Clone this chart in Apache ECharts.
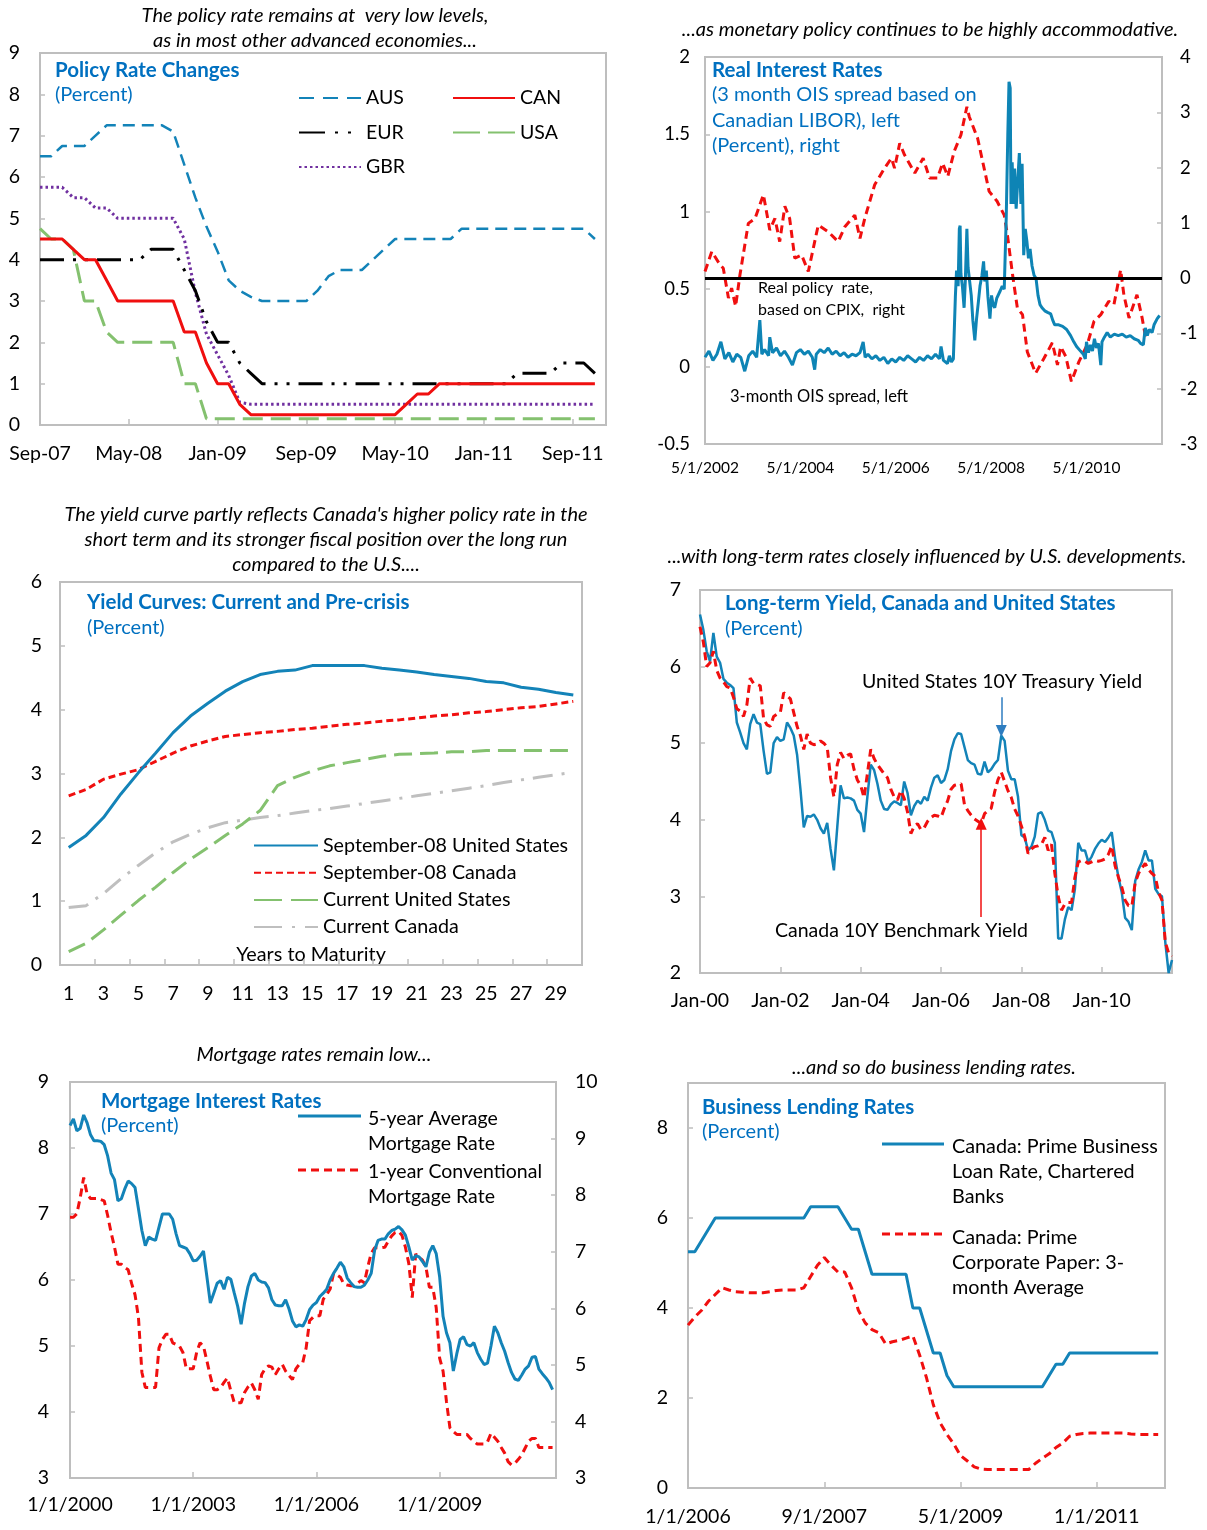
<!DOCTYPE html>
<html><head><meta charset="utf-8">
<script src="https://cdn.jsdelivr.net/npm/echarts@6/dist/echarts.min.js"></script>
<style>html,body{margin:0;padding:0;background:#fff}#c{width:1207px;height:1530px}</style>
</head><body><div id="c"></div>
<script>
// ---------- Panel 1: Policy rate changes (monthly, Sep-07 .. ) ----------
const aus = [6.5,6.5,6.75,6.75,6.75,7.0,7.25,7.25,7.25,7.25,
  7.25,7.25,7.1,6.3,5.5,4.8,4.2,3.5,3.25,3.1,
  3.0,3.0,3.0,3.0,3.0,3.25,3.6,3.75,3.75,3.75,
  4.0,4.25,4.5,4.5,4.5,4.5,4.5,4.5,4.75,4.75,
  4.75,4.75,4.75,4.75,4.75,4.75,4.75,4.75,4.75,4.75,
  4.5];
const can = [4.5,4.5,4.5,4.25,4.0,4.0,3.5,3.0,3.0,3.0,
  3.0,3.0,3.0,2.25,2.25,1.5,1.0,1.0,0.5,0.25,
  0.25,0.25,0.25,0.25,0.25,0.25,0.25,0.25,0.25,0.25,
  0.25,0.25,0.25,0.5,0.75,0.75,1.0,1.0,1.0,1.0,
  1.0,1.0,1.0,1.0,1.0,1.0,1.0,1.0,1.0,1.0,
  1.0];
const eur = [4.0,4.0,4.0,4.0,4.0,4.0,4.0,4.0,4.0,4.0,
  4.25,4.25,4.25,3.75,3.25,2.5,2.0,2.0,1.5,1.25,
  1.0,1.0,1.0,1.0,1.0,1.0,1.0,1.0,1.0,1.0,
  1.0,1.0,1.0,1.0,1.0,1.0,1.0,1.0,1.0,1.0,
  1.0,1.0,1.0,1.25,1.25,1.25,1.25,1.5,1.5,1.5,
  1.25];
const usa = [4.75,4.5,4.5,4.25,3.0,3.0,2.25,2.0,2.0,2.0,
  2.0,2.0,2.0,1.0,1.0,0.15,0.15,0.15,0.15,0.15,
  0.15,0.15,0.15,0.15,0.15,0.15,0.15,0.15,0.15,0.15,
  0.15,0.15,0.15,0.15,0.15,0.15,0.15,0.15,0.15,0.15,
  0.15,0.15,0.15,0.15,0.15,0.15,0.15,0.15,0.15,0.15,
  0.15];
const gbr = [5.75,5.75,5.75,5.5,5.5,5.25,5.25,5.0,5.0,5.0,
  5.0,5.0,5.0,4.5,3.2,2.2,1.7,1.2,0.55,0.5,
  0.5,0.5,0.5,0.5,0.5,0.5,0.5,0.5,0.5,0.5,
  0.5,0.5,0.5,0.5,0.5,0.5,0.5,0.5,0.5,0.5,
  0.5,0.5,0.5,0.5,0.5,0.5,0.5,0.5,0.5,0.5,
  0.5];

// ---------- Panel 2: Real interest rates ([months since May-2002, value]) ----------
const oisTickLabels = ['5/1/2002','5/1/2004','5/1/2006','5/1/2008','5/1/2010'];
const realPolicyRate = [[0,0.12],[1.7,0.48],[3.8,0.24],[4.6,0.18],[5.9,-0.36],[6.7,-0.18],[7.7,-0.51],[8.8,0.06],[10.9,0.99],[12.6,1.08],
  [14.7,1.51],[16.3,0.87],[17.6,1.08],[18.8,0.66],[20.1,1.30],[21.3,1.08],[22.6,0.36],[24.3,0.42],[26.0,0.12],[28.5,0.96],
  [31,0.84],[33.5,0.66],[35.2,0.93],[37.7,1.14],[39,0.72],[40.2,1.08],[42.7,1.69],[45.2,1.99],[46.9,2.17],[47.7,1.99],
  [49,2.44],[50.2,2.23],[52.8,1.90],[54.9,2.17],[56.5,1.81],[58.5,1.81],[59.8,2.08],[61.1,1.84],[62.7,2.29],[64.4,2.59],
  [65.9,3.10],[66.5,2.92],[68.6,2.53],[71.5,1.57],[73.5,1.39],[75.3,1.14],[76.1,0.78],[77.4,0.06],[78.6,-0.54],[79.9,-0.66],[81.1,-1.33],
  [83.2,-1.72],[85.3,-1.45],[87.4,-1.17],[88.7,-1.57],[89.5,-1.24],[90.8,-1.42],[92.2,-1.87],[94.1,-1.51],[96.2,-1.20],[97.9,-0.78],
  [99.6,-0.66],[101.6,-0.42],[102.9,-0.48],[104.6,0.15],[105.4,-0.30],[106.7,-0.72],[108.7,-0.30],[110,-0.72],[110.9,-1.08]];
const oisSpread = [[0,0.06],[1,0.10],[2,0.04],[3,0.08],[4,0.16],[5,0.05],[6,0.09],[7,0.03],[8,0.08],[9,0.06],[10,-0.03],[11,0.07],[12,0.10],[13,0.06],[13.8,0.30],[14.3,0.08],
  [15,0.11],[16,0.07],[16.3,0.19],[17,0.09],[18,0.12],[19,0.07],[20,0.10],[21,0.06],[22,0.01],[23,0.09],[24,0.11],[25,0.08],[26,0.10],[27,0.06],[27.6,-0.02],
  [28,0.08],[29,0.11],[30,0.09],[31,0.12],[32,0.08],[33,0.10],[34,0.07],[35,0.09],[36,0.06],[37,0.08],[38,0.07],[39,0.09],[39.8,0.16],[40.3,0.06],
  [41,0.08],[42,0.05],[43,0.07],[44,0.04],[45,0.06],[46,0.02],[47,0.05],[48,0.03],[49,0.06],[50,0.04],[51,0.07],[52,0.05],[53,0.03],[54,0.06],
  [55,0.04],[56,0.07],[57,0.05],[58,0.08],[59,0.05],[59.4,0.13],[60,0.04],[61,0.02],[61.5,0.07],[62,0.03],[62.5,0.05],
  [63.0,0.45],[63.3,0.62],[63.7,0.52],[64.0,0.89],[64.2,0.91],[64.4,0.60],[64.8,0.51],[65.2,0.38],[65.5,0.55],[65.9,0.89],[66.2,0.64],[66.6,0.55],
  [67.0,0.46],[67.4,0.30],[67.9,0.17],[68.3,0.30],[68.8,0.42],[69.2,0.52],[69.7,0.59],[70.1,0.68],[70.4,0.55],[70.8,0.62],[71.2,0.45],[71.7,0.31],
  [72.1,0.46],[72.5,0.40],[72.9,0.38],[73.4,0.44],[73.8,0.45],[74.3,0.49],[74.8,0.52],[75.3,0.50],[75.8,0.96],[76.2,1.50],[76.5,1.84],[76.8,1.80],
  [77.0,1.05],[77.3,1.32],[77.6,1.05],[77.9,1.28],[78.3,1.02],[78.7,1.20],[79.1,1.38],[79.5,1.05],[79.8,1.31],[80.2,0.72],[80.6,0.89],[81.0,0.81],
  [81.4,0.70],[81.8,0.76],[82.3,0.65],[82.8,0.59],[83.3,0.57],[83.8,0.46],[84.3,0.40],[84.8,0.38],[85.5,0.36],[86.2,0.35],[87.0,0.34],[87.5,0.30],
  [88.0,0.27],[89.0,0.27],[90.0,0.26],[91.0,0.24],[92.0,0.20],[92.8,0.16],[93.5,0.13],[94.5,0.10],[95.2,0.08],[95.7,0.05],[96.0,0.16],[96.5,0.09],
  [97.0,0.14],[97.5,0.10],[98.0,0.18],[98.5,0.12],[99.0,0.15],[99.6,0.01],[99.9,0.16],[100.5,0.19],[101.2,0.22],[102.0,0.19],[103.0,0.21],[104.0,0.20],
  [105.0,0.21],[106.0,0.19],[107.0,0.20],[108.0,0.18],[109.0,0.17],[109.6,0.15],[110.3,0.14],[110.8,0.25],[111.3,0.20],[111.8,0.24],[112.5,0.22],
  [113.0,0.27],[113.8,0.31],[114.4,0.33]];

// ---------- Panel 3: Yield curves ----------
const maturities = ['1','2','3','4','5','6','7','8','9','10','11','12','13','14','15','16','17','18','19','20','21','22','23','24','25','26','27','28','29','30'];
const sep08US = [1.84,2.03,2.31,2.68,3.01,3.32,3.64,3.90,4.10,4.29,4.44,4.55,4.60,4.62,4.69,4.69,4.69,4.69,4.65,4.62,4.59,4.55,4.52,4.49,4.44,4.42,4.35,4.32,4.27,4.23];
const sep08CA = [2.65,2.75,2.91,2.99,3.06,3.19,3.32,3.43,3.51,3.58,3.61,3.64,3.66,3.69,3.71,3.74,3.77,3.79,3.82,3.84,3.87,3.90,3.92,3.95,3.97,4.00,4.03,4.05,4.09,4.13];
const curUS = [0.21,0.34,0.55,0.78,1.01,1.22,1.45,1.66,1.84,2.03,2.21,2.42,2.81,2.94,3.04,3.12,3.17,3.22,3.27,3.30,3.31,3.32,3.34,3.34,3.36,3.36,3.36,3.36,3.36,3.36];
const curCA = [0.90,0.93,1.12,1.35,1.56,1.76,1.93,2.05,2.15,2.23,2.27,2.31,2.34,2.38,2.42,2.45,2.49,2.53,2.57,2.61,2.65,2.69,2.73,2.77,2.81,2.86,2.90,2.94,2.98,3.02];

// ---------- Panel 4: Long-term yields (monthly Jan-00 .. Oct-11) ----------
const us10 = [6.68,6.48,6.20,6.07,6.44,6.13,6.05,5.84,5.79,5.76,
  5.72,5.27,5.14,5.00,4.92,5.25,5.38,5.27,5.25,4.90,
  4.60,4.62,5.00,5.08,5.03,5.05,5.27,5.20,5.10,4.85,
  4.40,3.90,4.05,4.04,4.07,4.00,3.89,3.82,3.96,3.62,
  3.34,3.90,4.45,4.28,4.29,4.28,4.25,4.13,4.08,3.84,
  4.30,4.72,4.65,4.47,4.25,4.14,4.13,4.20,4.24,4.22,
  4.19,4.50,4.35,4.06,4.18,4.25,4.21,4.30,4.25,4.42,
  4.55,4.58,4.48,4.52,4.66,4.90,5.05,5.13,5.12,4.95,
  4.78,4.74,4.72,4.60,4.59,4.76,4.62,4.66,4.73,4.78,
  5.10,5.03,4.64,4.53,4.53,4.30,3.80,3.77,3.60,3.65,
  3.78,4.08,4.10,4.00,3.86,3.84,3.70,2.45,2.45,2.70,
  2.86,2.82,3.10,3.70,3.60,3.60,3.45,3.52,3.62,3.69,
  3.74,3.71,3.77,3.84,3.50,3.25,3.05,2.72,2.67,2.56,
  3.20,3.35,3.45,3.60,3.47,3.47,3.10,3.03,3.00,2.40,
  2.00,2.17];
const ca10 = [6.52,6.32,6.00,6.05,6.20,5.95,5.85,5.80,5.74,5.72,
  5.60,5.45,5.42,5.35,5.50,5.85,5.78,5.77,5.75,5.32,
  5.24,5.22,5.35,5.38,5.40,5.66,5.62,5.58,5.40,5.22,
  5.10,4.92,5.12,5.00,4.98,4.99,5.03,5.00,4.95,4.55,
  4.30,4.72,4.88,4.80,4.84,4.86,4.66,4.52,4.45,4.29,
  4.60,4.92,4.80,4.72,4.66,4.60,4.55,4.40,4.30,4.26,
  4.38,4.28,4.10,3.82,3.92,3.95,3.87,3.90,3.98,4.03,
  4.06,4.05,4.03,4.15,4.25,4.40,4.45,4.46,4.47,4.20,
  4.12,4.06,4.01,3.98,3.95,4.08,4.12,4.15,4.36,4.52,
  4.62,4.50,4.38,4.29,4.14,4.05,3.92,3.78,3.56,3.62,
  3.65,3.66,3.68,3.77,3.60,3.68,3.30,3.00,2.82,2.90,
  2.92,2.92,3.25,3.45,3.47,3.46,3.43,3.45,3.47,3.46,
  3.47,3.49,3.55,3.66,3.40,3.25,3.12,2.95,2.88,2.87,
  3.18,3.30,3.37,3.43,3.35,3.30,3.26,3.05,2.95,2.40,
  2.26,2.22];

// ---------- Panel 5: Mortgage rates (monthly Jan-2000 .. Oct-2011) ----------
const mort5y = [8.34,8.44,8.26,8.30,8.50,8.38,8.20,8.11,8.11,8.10,
  8.05,7.88,7.62,7.52,7.20,7.23,7.38,7.50,7.46,7.40,
  7.08,6.75,6.52,6.65,6.62,6.60,6.80,7.00,7.00,7.00,
  6.92,6.70,6.52,6.50,6.48,6.40,6.29,6.30,6.36,6.44,
  6.05,5.65,5.80,5.95,5.99,5.86,6.04,6.01,5.80,5.60,
  5.33,5.65,5.90,6.06,6.10,6.00,5.97,5.96,5.88,5.70,
  5.62,5.61,5.61,5.70,5.56,5.38,5.29,5.32,5.30,5.40,
  5.55,5.62,5.66,5.75,5.80,5.86,6.00,6.10,6.18,6.27,
  6.20,6.03,5.96,5.90,5.89,5.89,5.92,6.00,6.10,6.45,
  6.60,6.62,6.62,6.70,6.75,6.77,6.81,6.76,6.68,6.50,
  6.30,6.37,6.35,6.28,6.20,6.42,6.52,6.40,6.05,5.45,
  5.20,5.05,4.62,4.88,5.10,5.14,5.02,5.00,5.05,4.90,
  4.80,4.72,4.74,5.00,5.30,5.20,5.05,4.92,4.75,4.60,
  4.50,4.48,4.56,4.65,4.70,4.83,4.84,4.65,4.58,4.52,
  4.45,4.34];
const mort1y = [7.61,7.61,7.67,7.96,8.31,8.02,7.94,7.94,7.94,7.92,
  7.90,7.64,7.34,7.08,6.78,6.78,6.72,6.68,6.44,6.24,
  5.84,4.87,4.60,4.60,4.60,4.60,5.30,5.45,5.54,5.54,
  5.39,5.36,5.33,5.22,4.93,4.93,4.93,5.22,5.39,5.33,
  5.07,4.80,4.56,4.56,4.60,4.69,4.77,4.54,4.33,4.33,
  4.33,4.51,4.61,4.68,4.56,4.39,4.83,4.93,4.98,4.96,
  4.83,4.93,5.01,4.89,4.81,4.74,4.93,5.01,5.04,5.30,
  5.78,5.84,5.87,5.87,6.16,6.24,6.34,6.61,6.59,6.55,
  6.43,6.41,6.40,6.40,6.44,6.49,6.45,6.73,6.97,7.07,
  7.07,7.07,7.08,7.19,7.28,7.34,7.36,7.29,7.08,6.79,
  6.19,6.96,6.90,6.85,6.73,6.37,6.37,6.01,5.12,4.89,
  4.35,3.89,3.82,3.77,3.77,3.77,3.77,3.70,3.65,3.60,
  3.60,3.60,3.64,3.79,3.72,3.65,3.54,3.44,3.29,3.23,
  3.26,3.33,3.41,3.53,3.65,3.70,3.70,3.54,3.54,3.54,
  3.54,3.54];

// ---------- Panel 6: Business lending rates (monthly Jan-2006 .. Oct-2011) ----------
const primeBiz = [5.25,5.25,5.5,5.75,6.0,6.0,6.0,6.0,6.0,6.0,
  6.0,6.0,6.0,6.0,6.0,6.0,6.0,6.0,6.25,6.25,
  6.25,6.25,6.25,6.0,5.75,5.75,5.25,4.75,4.75,4.75,
  4.75,4.75,4.75,4.0,4.0,3.5,3.0,3.0,2.5,2.25,
  2.25,2.25,2.25,2.25,2.25,2.25,2.25,2.25,2.25,2.25,
  2.25,2.25,2.25,2.5,2.75,2.75,3.0,3.0,3.0,3.0,
  3.0,3.0,3.0,3.0,3.0,3.0,3.0,3.0,3.0,3.0];
const primeCP = [3.62,3.80,3.95,4.15,4.30,4.45,4.40,4.36,4.35,4.34,
  4.34,4.34,4.36,4.39,4.40,4.40,4.40,4.45,4.70,4.95,
  5.12,4.95,4.80,4.80,4.45,3.95,3.67,3.52,3.45,3.20,
  3.25,3.28,3.33,3.38,2.95,2.45,1.85,1.45,1.19,0.98,
  0.72,0.60,0.47,0.42,0.41,0.41,0.41,0.41,0.41,0.41,
  0.41,0.55,0.66,0.76,0.90,1.00,1.15,1.19,1.21,1.22,
  1.22,1.22,1.22,1.22,1.22,1.20,1.19,1.19,1.19,1.19];

// ---------- category builders ----------
const MON = ['Jan','Feb','Mar','Apr','May','Jun','Jul','Aug','Sep','Oct','Nov','Dec'];
function monthCats(y, m, n, style) {
  const out = [];
  for (let i = 0; i < n; i++) {
    const mm = (m + i) % 12, yy = y + Math.floor((m + i) / 12);
    out.push(style === 'short' ? MON[mm] + '-' + String(yy % 100).padStart(2, '0') : (mm + 1) + '/1/' + yy);
  }
  return out;
}
const cats1 = monthCats(2007, 8, 52, 'short');
const cats4 = monthCats(2000, 0, 142, 'short');
const cats5 = monthCats(2000, 0, 143, 'us');
const cats6 = monthCats(2006, 0, 71, 'us');

// ---------- styling ----------
const FONT = 'Lato';
const LBLUE = '#1383B8', TBLUE = '#0070C0', RED = '#F00F0F', GREEN = '#84C16F', PURPLE = '#7030A0', GRAY = '#BFBFBF', BORDER = '#BEBEBE';
const AX = 19.5;

function gridBox(o) { return Object.assign({ show: true, borderColor: BORDER, borderWidth: 2, backgroundColor: 'transparent', outerBoundsMode: 'none', containLabel: false }, o); }
function catAxis(gi, data, interval, margin, extra) {
  return Object.assign({
    type: 'category', gridIndex: gi, data: data, boundaryGap: false,
    axisLine: { show: false }, splitLine: { show: false },
    axisTick: { show: true, inside: true, length: 6, interval: interval, lineStyle: { color: BORDER, width: 1.5 } },
    axisLabel: { interval: interval, color: '#000', fontSize: AX, margin: margin, fontFamily: FONT }
  }, extra || {});
}
function valAxis(gi, min, max, interval, labelExtra, extra) {
  return Object.assign({
    type: 'value', gridIndex: gi, min: min, max: max, interval: interval,
    axisLine: { show: false }, splitLine: { show: false },
    axisTick: { show: true, inside: true, length: 5, lineStyle: { color: BORDER, width: 1.5 } },
    axisLabel: Object.assign({ color: '#000', fontSize: AX, margin: 19, fontFamily: FONT }, labelExtra || {})
  }, extra || {});
}
function line(name, xi, yi, data, color, width, dash, extra) {
  return Object.assign({
    name: name, type: 'line', xAxisIndex: xi, yAxisIndex: yi, data: data, symbol: 'none', showSymbol: false,
    color: color, lineStyle: { color: color, width: width, type: dash || 'solid', cap: 'butt' }, z: 3
  }, extra || {});
}

// ---------- text helpers ----------
function txt(x, y, lines, font, fill, align, lh) {
  const out = [];
  lines.forEach((s, i) => out.push({ type: 'text', x: x, y: y + i * (lh || 25), silent: true,
    style: { text: s, font: font, fill: fill || '#000', align: align || 'left', verticalAlign: 'middle' } }));
  return out;
}
function seg(x1, y1, x2, y2, color, dash) {
  return { type: 'line', silent: true, shape: { x1: x1, y1: y1, x2: x2, y2: y2 },
    style: { stroke: color, lineWidth: 3, lineDash: dash || null } };
}
const CAP = 'italic 20px ' + FONT, TIT = 'bold 20.5px ' + FONT, SUB = '20px ' + FONT, LEG = '19.8px ' + FONT;

const graphics = [].concat(
  txt(315, 16, ['The policy rate remains at  very low levels,', 'as in most other advanced economies...'], CAP, '#000', 'center', 25),
  txt(55, 70, ['Policy Rate Changes'], TIT, TBLUE),
  txt(55, 95, ['(Percent)'], SUB, TBLUE),

  txt(930, 30, ['...as monetary policy continues to be highly accommodative.'], CAP, '#000', 'center'),
  txt(712, 70, ['Real Interest Rates'], TIT, TBLUE),
  txt(712, 95, ['(3 month OIS spread based on', 'Canadian LIBOR), left', '(Percent), right'], SUB, TBLUE, 'left', 25.5),
  txt(758, 288, ['Real policy  rate,', 'based on CPIX,  right'], '16px ' + FONT, '#000', 'left', 22),
  txt(730, 397, ['3-month OIS spread, left'], '16.5px ' + FONT, '#000'),

  txt(326, 515, ["The yield curve partly reflects Canada's higher policy rate in the", 'short term and its stronger fiscal position over the long run', 'compared to the U.S....'], CAP, '#000', 'center', 25),
  txt(87, 602, ['Yield Curves: Current and Pre-crisis'], TIT, TBLUE),
  txt(87, 628, ['(Percent)'], SUB, TBLUE),
  txt(311, 955, ['Years to Maturity'], LEG, '#000', 'center'),

  txt(927, 557, ['...with long-term rates closely influenced by U.S. developments.'], CAP, '#000', 'center'),
  txt(725, 603, ['Long-term Yield, Canada and United States'], TIT, TBLUE),
  txt(725, 629, ['(Percent)'], SUB, TBLUE),
  txt(862, 682, ['United States 10Y Treasury Yield'], '19.5px ' + FONT, '#000'),
  txt(775, 931, ['Canada 10Y Benchmark Yield'], '19.5px ' + FONT, '#000'),

  txt(314, 1055, ['Mortgage rates remain low...'], CAP, '#000', 'center'),
  txt(101, 1101, ['Mortgage Interest Rates'], TIT, TBLUE),
  txt(101, 1126, ['(Percent)'], SUB, TBLUE),
  [seg(298, 1116, 361, 1116, LBLUE), seg(298, 1170, 361, 1170, RED, [8, 5])],
  txt(368, 1119, ['5-year Average', 'Mortgage Rate'], '19.5px ' + FONT, '#000', 'left', 25),
  txt(368, 1172, ['1-year Conventional', 'Mortgage Rate'], '19.5px ' + FONT, '#000', 'left', 25),

  txt(934, 1068, ['...and so do business lending rates.'], CAP, '#000', 'center'),
  txt(702, 1107, ['Business Lending Rates'], TIT, TBLUE),
  txt(702, 1132, ['(Percent)'], SUB, TBLUE),
  [seg(882, 1144, 944, 1144, LBLUE), seg(882, 1234, 944, 1234, RED, [8, 5])],
  txt(952, 1147, ['Canada: Prime Business', 'Loan Rate, Chartered', 'Banks'], LEG, '#000', 'left', 25),
  txt(952, 1238, ['Canada: Prime', 'Corporate Paper: 3-', 'month Average'], LEG, '#000', 'left', 25)
);

const legendBase = { orient: 'vertical', padding: 0, selectedMode: false, itemStyle: { opacity: 0 } };

const option = {
  animation: false,
  textStyle: { fontFamily: FONT },
  grid: [
    gridBox({ left: 40, top: 53, width: 566, height: 372 }),
    gridBox({ left: 705, top: 57, width: 457, height: 387 }),
    gridBox({ left: 60, top: 582, width: 522, height: 383 }),
    gridBox({ left: 700, top: 590, width: 472, height: 383 }),
    gridBox({ left: 70, top: 1082, width: 486, height: 396 }),
    gridBox({ left: 688, top: 1083, width: 477, height: 405 })
  ],
  xAxis: [
    catAxis(0, cats1, 7, 19),
    { type: 'value', gridIndex: 1, min: 0, max: 115, interval: 24,
      axisLine: { show: false }, splitLine: { show: false }, axisTick: { show: false },
      axisLabel: { color: '#000', fontSize: 15.5, margin: 16, showMaxLabel: false, fontFamily: FONT,
        formatter: v => { const i = Math.round(v / 24); return (Math.abs(v - i * 24) < 0.01 && oisTickLabels[i]) || ''; } } },
    catAxis(2, maturities, 1, 19, { boundaryGap: true }),
    catAxis(3, cats4, 23, 18),
    catAxis(4, cats5, 35, 17),
    catAxis(5, cats6, 19, 19)
  ],
  yAxis: [
    valAxis(0, 0, 9, 1, { margin: 20 }),
    valAxis(1, -0.5, 2, 0.5, { margin: 15, fontSize: 18.5 }),
    valAxis(1, -3, 4, 1, { margin: 18, fontSize: 18.5 }, { position: 'right' }),
    valAxis(2, 0, 6, 1, { margin: 18 }),
    valAxis(3, 2, 7, 1, { margin: 19 }),
    valAxis(4, 3, 9, 1, { margin: 21 }),
    valAxis(4, 3, 10, 1, { margin: 19 }, { position: 'right' }),
    valAxis(5, 0, 9, 2, { margin: 20, showMaxLabel: false })
  ],
  legend: [
    Object.assign({}, legendBase, { left: 298, top: 88, itemWidth: 62, itemHeight: 20, itemGap: 14.5,
      data: [{ name: 'AUS', lineStyle: { type: [15, 9] } }, { name: 'EUR', lineStyle: { type: [26, 10, 3, 10, 3, 10] } }, { name: 'GBR' }],
      textStyle: { fontSize: 19.5, color: '#000', fontFamily: FONT } }),
    Object.assign({}, legendBase, { left: 452, top: 88, itemWidth: 62, itemHeight: 20, itemGap: 14.5,
      data: [{ name: 'CAN' }, { name: 'USA', lineStyle: { type: [27, 8] } }],
      textStyle: { fontSize: 19.5, color: '#000', fontFamily: FONT } }),
    Object.assign({}, legendBase, { left: 253, top: 835.5, itemWidth: 64, itemHeight: 19, itemGap: 7.2,
      data: [{ name: 'September-08 United States' }, { name: 'September-08 Canada' },
        { name: 'Current United States', lineStyle: { type: [28, 9] } }, { name: 'Current Canada', lineStyle: { type: [28, 10, 3, 10] } }],
      textStyle: { fontSize: 19.7, color: '#000', fontFamily: FONT } })
  ],
  graphic: graphics,
  series: [
    line('GBR', 0, 0, gbr, PURPLE, 3, [2.5, 3]),
    line('USA', 0, 0, usa, GREEN, 3, [20, 8]),
    line('EUR', 0, 0, eur, '#000', 3, [24, 9, 3, 9, 3, 9]),
    line('AUS', 0, 0, aus, LBLUE, 2.5, [12, 7]),
    line('CAN', 0, 0, can, RED, 3),

    line('Real policy rate, based on CPIX, right', 1, 2, realPolicyRate, RED, 3, [8, 5], {
      markLine: { silent: true, symbol: ['none', 'none'], label: { show: false },
        lineStyle: { color: '#000', width: 3, type: 'solid' }, data: [{ yAxis: 0 }] } }),
    line('3-month OIS spread, left', 1, 1, oisSpread, '#0E84B5', 3),

    line('Current Canada', 2, 3, curCA, GRAY, 3, [20, 9, 3, 9]),
    line('Current United States', 2, 3, curUS, GREEN, 3, [18, 8]),
    line('September-08 Canada', 2, 3, sep08CA, RED, 3, [7, 4]),
    line('September-08 United States', 2, 3, sep08US, LBLUE, 3),

    line('United States 10Y Treasury Yield', 3, 4, us10, LBLUE, 2.5, 'solid', {
      markLine: { silent: true, symbol: ['none', 'triangle'], symbolSize: [11, 12], label: { show: false },
        lineStyle: { color: '#2E7DC0', width: 1.5, type: 'solid' },
        data: [[{ coord: [cats4[90], 5.60] }, { coord: [cats4[90], 5.16] }]] } }),
    line('Canada 10Y Benchmark Yield', 3, 4, ca10, RED, 3, [8, 5], {
      markLine: { silent: true, symbol: ['none', 'triangle'], symbolSize: [11, 12], label: { show: false },
        lineStyle: { color: RED, width: 1.5, type: 'solid' },
        data: [[{ coord: [cats4[84], 2.73] }, { coord: [cats4[84], 3.95] }]] } }),

    line('1-year Conventional Mortgage Rate', 4, 6, mort1y, RED, 3, [8, 5]),
    line('5-year Average Mortgage Rate', 4, 5, mort5y, LBLUE, 3),

    line('Canada: Prime Corporate Paper: 3-month Average', 5, 7, primeCP, RED, 3, [8, 5]),
    line('Canada: Prime Business Loan Rate, Chartered Banks', 5, 7, primeBiz, LBLUE, 3)
  ]
};
const chart = echarts.init(document.getElementById('c'), null, { renderer: 'canvas' });
chart.setOption(option);
</script></body></html>
